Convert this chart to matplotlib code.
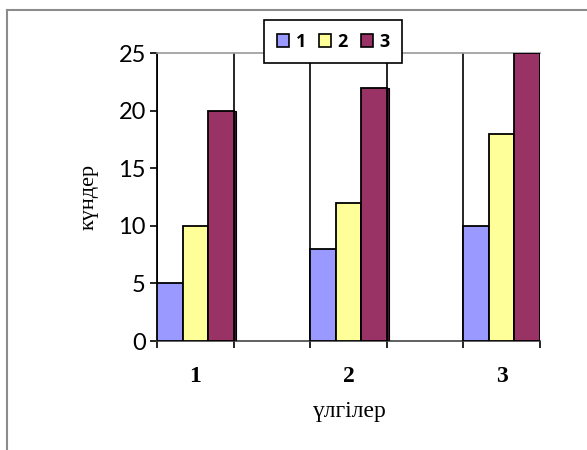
import matplotlib.pyplot as plt
from matplotlib.lines import Line2D
from matplotlib.patches import Patch

# bar groups and their heights (days)
groups = ["1", "2", "3"]
series_names = ["1", "2", "3"]
series_1 = [5, 8, 10]
series_2 = [10, 12, 18]
series_3 = [20, 22, 25]
colors = ["#9999ff", "#ffff99", "#993366"]

SERIF = ["Liberation Serif", "DejaVu Serif"]

W, H = 587, 450
fig = plt.figure(figsize=(W / 100, H / 100), dpi=100)
ax = fig.add_axes([157 / W, (H - 341) / H, (540 - 157) / W, (341 - 53) / H])

# each group fills one slot, with an empty slot between groups
slot_starts = [0, 2, 4]
bar_w = 1 / 3
for k, (vals, col) in enumerate(zip([series_1, series_2, series_3], colors)):
    xs = [s + k * bar_w for s in slot_starts]
    ax.bar(xs, vals, width=bar_w, align="edge", color=col,
           edgecolor="black", linewidth=1.3, zorder=3)
# dark side strip on the last bar of each group
ax.bar([s + 1.0 for s in slot_starts], series_3, width=0.035, align="edge",
       color="#4a1530", edgecolor="black", linewidth=0.8, zorder=3)

for x in range(6):
    ax.axvline(x, color="black", linewidth=1.2, zorder=1)

ax.set_xlim(0, 5)
ax.set_ylim(0, 25)
ax.set_xticks(range(6))
ax.set_xticklabels([])
ax.set_xticks([s + 0.5 for s in slot_starts], minor=True)
ax.set_xticklabels(groups, minor=True, fontsize=17, fontweight="bold", family=SERIF)
ax.tick_params(axis="x", which="minor", length=0, pad=18)
ax.tick_params(axis="x", which="major", length=5, width=1.2, direction="out")
ax.set_yticks(range(0, 26, 5))
ax.tick_params(axis="y", length=5, width=1.2, labelsize=17, pad=3)
for lab in ax.get_yticklabels():
    lab.set_family(["Lato", "DejaVu Sans"])

ax.spines["left"].set_color("black")
ax.spines["left"].set_linewidth(1.3)
ax.spines["bottom"].set_color("#444444")
ax.spines["bottom"].set_linewidth(1.2)
ax.spines["top"].set_color("#999999")
ax.spines["top"].set_linewidth(1.2)
ax.spines["right"].set_visible(False)

ax.set_xlabel("үлгілер", fontsize=17, labelpad=10, family=SERIF)
ax.set_ylabel("күндер", fontsize=16, labelpad=14, family=SERIF)

handles = [Patch(facecolor=c, edgecolor="black", linewidth=1.2) for c in colors]
leg = fig.legend(handles, series_names, loc="upper left",
                 bbox_to_anchor=(264 / W, 1 - 20 / H), borderaxespad=0, ncol=3,
                 handlelength=0.7, handleheight=0.7, handletextpad=0.35,
                 columnspacing=0.7, borderpad=0.7, fancybox=False,
                 prop={"family": ["Open Sans", "DejaVu Sans"], "weight": "bold", "size": 13})
leg.get_frame().set_edgecolor("black")
leg.get_frame().set_linewidth(1.2)
leg.get_frame().set_alpha(1)

# chart area border (top and left edges)
fig.add_artist(Line2D([7 / W, 1], [1 - 10 / H, 1 - 10 / H], color="#8c8c8c", linewidth=1.5))
fig.add_artist(Line2D([7 / W, 7 / W], [0, 1 - 10 / H], color="#8c8c8c", linewidth=1.5))

fig.savefig("out.png", dpi=100)
